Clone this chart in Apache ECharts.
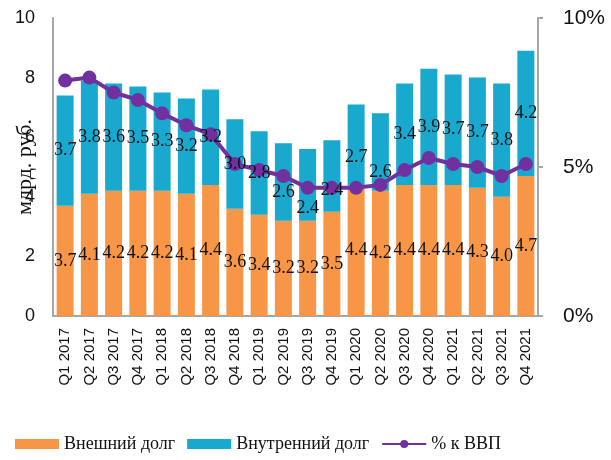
<!DOCTYPE html>
<html><head><meta charset="utf-8">
<script src="https://cdn.jsdelivr.net/npm/echarts@6/dist/echarts.min.js"></script>
<style>html,body{margin:0;padding:0;background:#fff}#c{width:611px;height:460px}</style>
</head><body><div id="c"></div>
<script>
const categories = ['Q1 2017','Q2 2017','Q3 2017','Q4 2017','Q1 2018','Q2 2018','Q3 2018','Q4 2018','Q1 2019','Q2 2019','Q3 2019','Q4 2019','Q1 2020','Q2 2020','Q3 2020','Q4 2020','Q1 2021','Q2 2021','Q3 2021','Q4 2021'];
const externalDebt = [3.7,4.1,4.2,4.2,4.2,4.1,4.4,3.6,3.4,3.2,3.2,3.5,4.4,4.2,4.4,4.4,4.4,4.3,4.0,4.7];
const internalDebt = [3.7,3.8,3.6,3.5,3.3,3.2,3.2,3.0,2.8,2.6,2.4,2.4,2.7,2.6,3.4,3.9,3.7,3.7,3.8,4.2];
const pctGDP = [7.9,8.0,7.5,7.25,6.8,6.4,6.1,5.1,4.9,4.7,4.3,4.3,4.3,4.4,4.9,5.3,5.1,5.0,4.7,5.1];
const leftTicks = {min:0, max:10, interval:2};
const rightTicks = {min:0, max:10, interval:5};

const serif = '"Liberation Serif","Times New Roman",serif';
const sans = '"Liberation Sans",Arial,sans-serif';
const chart = echarts.init(document.getElementById('c'));
const lbl = {show:true, position:'inside', color:'#111', fontFamily:serif, fontSize:18, formatter:p=>p.value.toFixed(1)};
const transparent = 'rgba(0,0,0,0)';
// label nudges (px) used in the source to keep some internal-debt labels off the line
const internalLabelNudge = {9:10, 10:23, 11:14, 12:13, 13:20};
const internalLabelData = internalDebt.map((v,i)=> internalLabelNudge[i]
  ? {value:v, label:{offset:[0, internalLabelNudge[i]]}} : v);
chart.setOption({
  animation:false,
  grid:{left:53, right:73, top:18, bottom:144, containLabel:false, outerBoundsMode:'none'},
  legend:{
    left:10, top:430, itemWidth:44, itemHeight:10, itemGap:12,
    textStyle:{fontFamily:serif, fontSize:18, color:'#111'},
    data:[{name:'Внешний долг', icon:'rect'},{name:'Внутренний долг', icon:'rect'},{name:'% к ВВП'}]
  },
  xAxis:{type:'category', data:categories,
    axisLine:{lineStyle:{color:'#a6a6a6', width:2}}, axisTick:{show:false},
    axisLabel:{rotate:90, fontFamily:sans, fontSize:15, color:'#111', margin:12, interval:0}},
  yAxis:[
    {type:'value', min:leftTicks.min, max:leftTicks.max, interval:leftTicks.interval,
      name:'млрд. руб.', nameLocation:'middle', nameRotate:90, nameGap:17, nameMoveOverlap:false,
      nameTextStyle:{fontFamily:serif, fontSize:22, color:'#111'},
      axisLine:{show:true, lineStyle:{color:'#a6a6a6', width:2}}, axisTick:{show:false},
      splitLine:{show:false},
      axisLabel:{fontFamily:sans, fontSize:18, color:'#111', margin:18}},
    {type:'value', min:rightTicks.min, max:rightTicks.max, interval:rightTicks.interval, position:'right',
      axisLine:{show:true, lineStyle:{color:'#a6a6a6', width:2}},
      axisTick:{show:true, inside:false, length:5, lineStyle:{color:'#a6a6a6', width:2}},
      splitLine:{show:false},
      axisLabel:{fontFamily:sans, fontSize:21, color:'#111', margin:25, formatter:'{value}%'}}
  ],
  series:[
    {name:'Внешний долг', type:'bar', stack:'d', data:externalDebt, barWidth:17,
      itemStyle:{color:'#F79646'}, z:2},
    {name:'Внутренний долг', type:'bar', stack:'d', data:internalDebt, barWidth:17,
      itemStyle:{color:'#19A9CF'}, z:2},
    {name:'% к ВВП', type:'line', yAxisIndex:1, data:pctGDP, symbol:'circle', symbolSize:14,
      lineStyle:{color:'#7030A0', width:4}, itemStyle:{color:'#7030A0'}, z:5},
    {name:'lblExt', type:'bar', stack:'l', data:externalDebt, barWidth:17, barGap:'-100%', silent:true,
      itemStyle:{color:transparent}, label:lbl, z:8, tooltip:{show:false}},
    {name:'lblInt', type:'bar', stack:'l', data:internalLabelData, barWidth:17, silent:true,
      itemStyle:{color:transparent}, label:lbl, z:8, tooltip:{show:false}}
  ]
});
</script></body></html>
